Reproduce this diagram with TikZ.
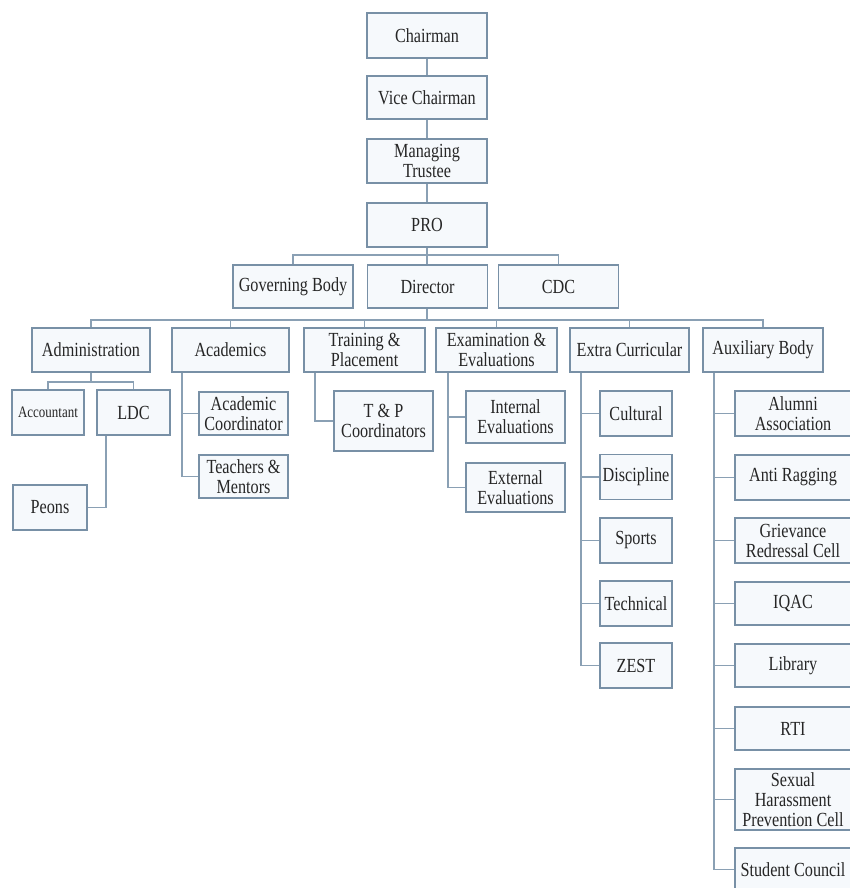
\documentclass[tikz,border=0pt]{standalone}
\usepackage{fontspec}
\setmainfont{Liberation Serif}[FakeStretch=0.81]
\definecolor{boxc}{HTML}{7890A6}
\definecolor{linec}{HTML}{8AA0B4}
\definecolor{fillc}{HTML}{F6F9FC}
\definecolor{txtc}{HTML}{262626}
\tikzset{
  box/.style={draw=boxc, fill=fillc, line width=1.7pt, inner sep=0pt, align=center,
    text=txtc, font=\fontsize{20}{20}\selectfont},
  sz/.style 2 args={minimum width=#1pt, minimum height=#2pt},
  conn/.style={draw=linec, line width=1.4pt},
}
\begin{document}
\begin{tikzpicture}[x=1pt,y=-1pt]
\useasboundingbox (0,0) rectangle (849,888);
\fill[white] (0,0) rectangle (849,888);
% top column
\node[box, sz={120}{45}] (chair) at (427,35.5) {Chairman};
\node[box, sz={120}{43}] (vice) at (427,97.5) {Vice Chairman};
\node[box, sz={120}{44}] (mt) at (427,161) {Managing\\Trustee};
\node[box, sz={120}{44}] (pro) at (427,225) {PRO};
\node[box, sz={120}{43}] (gb) at (293,286.5) {Governing Body};
\node[box, sz={120}{43}] (dir) at (427.5,286.5) {Director};
\node[box, sz={120}{43}] (cdc) at (558.5,286.5) {CDC};
% departments
\node[box, sz={118}{44}] (admin) at (91,350) {Administration};
\node[box, sz={117}{44}] (acad) at (230.5,350) {Academics};
\node[box, sz={121}{44}] (tp) at (364.5,350) {Training \&\\Placement};
\node[box, sz={121}{44}] (exam) at (496.5,350) {Examination \&\\Evaluations};
\node[box, sz={119}{44}] (extra) at (629.5,350) {Extra Curricular};
\node[box, sz={120}{44}] (aux) at (763,350) {Auxiliary Body};
% administration
\node[box, sz={72}{45}, font=\fontsize{16}{18}\selectfont] (acct) at (48,412.5) {Accountant};
\node[box, sz={73}{45}] (ldc) at (133.5,412.5) {LDC};
\node[box, sz={74}{45}] (peons) at (50,507.5) {Peons};
% academics
\node[box, sz={89}{43}] (acadc) at (243.5,413.5) {Academic\\Coordinator};
\node[box, sz={89}{43}] (teach) at (243.5,476.5) {Teachers \&\\Mentors};
% T&P
\node[box, sz={99}{60}] (tpc) at (383.5,421) {T \& P\\Coordinators};
% exam
\node[box, sz={99}{52}] (inte) at (515.5,417) {Internal\\Evaluations};
\node[box, sz={99}{49}] (exte) at (515.5,487.5) {External\\Evaluations};
% extra curricular
\node[box, sz={72}{45}] (cult) at (636,413.5) {Cultural};
\node[box, sz={72}{45}] (disc) at (636,477) {Discipline};
\node[box, sz={72}{45}] (sport) at (636,540.5) {Sports};
\node[box, sz={72}{45}] (tech) at (636,603.5) {Technical};
\node[box, sz={72}{45}] (zest) at (636,665.5) {ZEST};
% auxiliary
\node[box, sz={116}{45}] (alum) at (793,413.5) {Alumni\\Association};
\node[box, sz={116}{45}] (anti) at (793,477.5) {Anti Ragging};
\node[box, sz={116}{45}] (griev) at (793,540.5) {Grievance\\Redressal Cell};
\node[box, sz={116}{43}] (iqac) at (793,603.5) {IQAC};
\node[box, sz={116}{43}] (lib) at (793,665.5) {Library};
\node[box, sz={116}{43}] (rti) at (793,728.5) {RTI};
\node[box, sz={116}{61}] (sex) at (793,799.5) {Sexual\\Harassment\\Prevention Cell};
\node[box, sz={116}{43}] (stud) at (793,869.5) {Student Council};
% connectors
\draw[conn] (chair) -- (vice);
\draw[conn] (vice) -- (mt);
\draw[conn] (mt) -- (pro);
\draw[conn] (pro.south) -- (pro.south |- dir.north);
\coordinate (b1) at (427,255);
\draw[conn] (gb.north) |- (b1) -| (cdc.north);
\coordinate (b2) at (427,320);
\draw[conn] (dir.south -| b2) -- (b2);
\draw[conn] (admin.north) |- (b2) -| (aux.north);
\foreach \n in {acad,tp,exam,extra} \draw[conn] (\n.north) -- (\n.north |- b2);
\coordinate (b3) at (91,382);
\draw[conn] (admin.south) -- (b3);
\draw[conn] (acct.north) |- (b3) -| (ldc.north);
\draw[conn] ([xshift=10pt]ldc.south west) |- (peons.east);
\foreach \c in {acadc,teach} \draw[conn] ([xshift=11pt]acad.south west) |- (\c.west);
\draw[conn] ([xshift=12pt]tp.south west) |- (tpc.west);
\foreach \c in {inte,exte} \draw[conn] ([xshift=13pt]exam.south west) |- (\c.west);
\foreach \c in {cult,disc,sport,tech,zest} \draw[conn] ([xshift=12pt]extra.south west) |- (\c.west);
\foreach \c in {alum,anti,griev,iqac,lib,rti,sex,stud} \draw[conn] ([xshift=12pt]aux.south west) |- (\c.west);
\end{tikzpicture}
\end{document}
